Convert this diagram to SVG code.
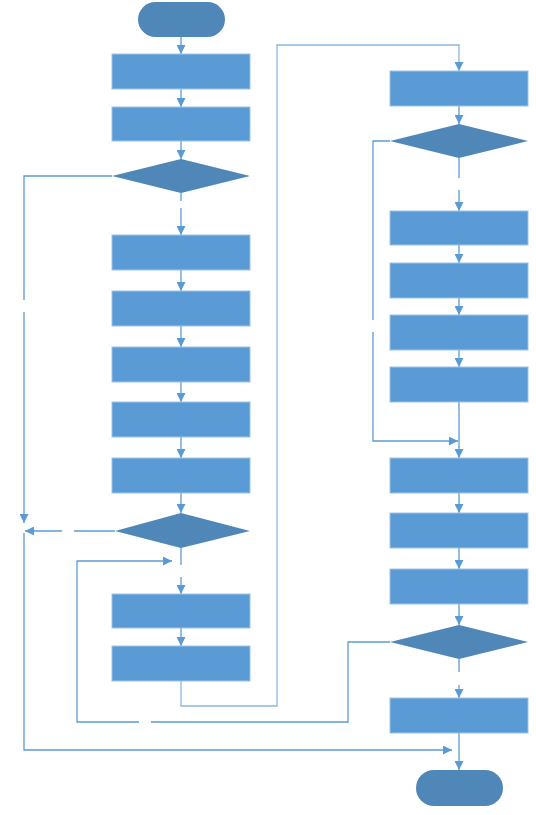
<svg xmlns="http://www.w3.org/2000/svg" width="536" height="815" viewBox="0 0 536 815">
<style>
.box{fill:#5B9BD5;stroke:#9DC3E6;stroke-width:1}
.dec{fill:#4F87B9}
.term{fill:#4F87B9}
.ln{fill:none;stroke:#5B9BD5;stroke-width:1.3}
.lt{fill:none;stroke:#8AB6E0;stroke-width:1.3}
</style>
<defs>
<marker id="a" viewBox="0 0 10 10" refX="10" refY="5" markerWidth="9" markerHeight="9" markerUnits="userSpaceOnUse" orient="auto">
<path d="M0,0 L10,5 L0,10 z" fill="#5B9BD5"/>
</marker>
</defs>
<rect width="536" height="815" fill="#fff"/>
<g id="connectors">
<path class="ln" d="M181,37 V54" marker-end="url(#a)"/>
<path class="ln" d="M181,89 V107" marker-end="url(#a)"/>
<path class="ln" d="M181,141 V159" marker-end="url(#a)"/>
<path class="ln" d="M181,193 V201"/>
<path class="ln" d="M181,208 V235" marker-end="url(#a)"/>
<path class="ln" d="M181,270 V291" marker-end="url(#a)"/>
<path class="ln" d="M181,326 V347" marker-end="url(#a)"/>
<path class="ln" d="M181,382 V402" marker-end="url(#a)"/>
<path class="ln" d="M181,437 V458" marker-end="url(#a)"/>
<path class="ln" d="M181,493 V513" marker-end="url(#a)"/>
<path class="ln" d="M181,548 V565"/>
<path class="ln" d="M181,577 V594" marker-end="url(#a)"/>
<path class="ln" d="M181,628 V646" marker-end="url(#a)"/>
<path class="ln" d="M112,176 H24 V300"/>
<path class="ln" d="M24,312 V523" marker-end="url(#a)"/>
<path class="ln" d="M115,531 H74"/>
<path class="ln" d="M62,531 H25" marker-end="url(#a)"/>
<path class="ln" d="M24,533 V750 H452" marker-end="url(#a)"/>
<path class="lt" d="M181,681 V706 H277 V45 H459 V71" marker-end="url(#a)"/>
<path class="ln" d="M459,106 V124" marker-end="url(#a)"/>
<path class="ln" d="M459,158 V178"/>
<path class="ln" d="M459,190 V211" marker-end="url(#a)"/>
<path class="ln" d="M459,245 V263" marker-end="url(#a)"/>
<path class="ln" d="M459,298 V315" marker-end="url(#a)"/>
<path class="ln" d="M459,350 V367" marker-end="url(#a)"/>
<path class="ln" d="M459,402 V458" marker-end="url(#a)"/>
<path class="ln" d="M390,141 H373 V320"/>
<path class="ln" d="M373,332 V441 H458" marker-end="url(#a)"/>
<path class="ln" d="M459,493 V513" marker-end="url(#a)"/>
<path class="ln" d="M459,548 V569" marker-end="url(#a)"/>
<path class="ln" d="M459,604 V625" marker-end="url(#a)"/>
<path class="ln" d="M459,659 V672"/>
<path class="ln" d="M459,685 V698" marker-end="url(#a)"/>
<path class="ln" d="M459,733 V770" marker-end="url(#a)"/>
<path class="ln" d="M390,642 H348 V722 H151"/>
<path class="ln" d="M139,722 H77 V561 H172" marker-end="url(#a)"/>
</g>
<g id="start"><rect class="term" x="138" y="2" width="87" height="35" rx="17.5"/></g>
<g id="box1"><rect class="box" x="112" y="54" width="138" height="35"/></g>
<g id="box2"><rect class="box" x="112" y="107" width="138" height="34"/></g>
<g id="dec1"><polygon class="dec" points="181,159 250,176 181,193 112,176"/></g>
<g id="box3"><rect class="box" x="112" y="235" width="138" height="35"/></g>
<g id="box4"><rect class="box" x="112" y="291" width="138" height="35"/></g>
<g id="box5"><rect class="box" x="112" y="347" width="138" height="35"/></g>
<g id="box6"><rect class="box" x="112" y="402" width="138" height="35"/></g>
<g id="box7"><rect class="box" x="112" y="458" width="138" height="35"/></g>
<g id="dec2"><polygon class="dec" points="181,513 250,531 181,548 115,531"/></g>
<g id="box8"><rect class="box" x="112" y="594" width="138" height="34"/></g>
<g id="box9"><rect class="box" x="112" y="646" width="138" height="35"/></g>
<g id="rbox1"><rect class="box" x="390" y="71" width="138" height="35"/></g>
<g id="rdec1"><polygon class="dec" points="459,124 528,141 459,158 390,141"/></g>
<g id="rbox2"><rect class="box" x="390" y="211" width="138" height="34"/></g>
<g id="rbox3"><rect class="box" x="390" y="263" width="138" height="35"/></g>
<g id="rbox4"><rect class="box" x="390" y="315" width="138" height="35"/></g>
<g id="rbox5"><rect class="box" x="390" y="367" width="138" height="35"/></g>
<g id="rbox6"><rect class="box" x="390" y="458" width="138" height="35"/></g>
<g id="rbox7"><rect class="box" x="390" y="513" width="138" height="35"/></g>
<g id="rbox8"><rect class="box" x="390" y="569" width="138" height="35"/></g>
<g id="rdec2"><polygon class="dec" points="459,625 528,642 459,659 390,642"/></g>
<g id="rbox9"><rect class="box" x="390" y="698" width="138" height="35"/></g>
<g id="end"><rect class="term" x="416" y="770" width="87" height="36" rx="18"/></g>
</svg>
